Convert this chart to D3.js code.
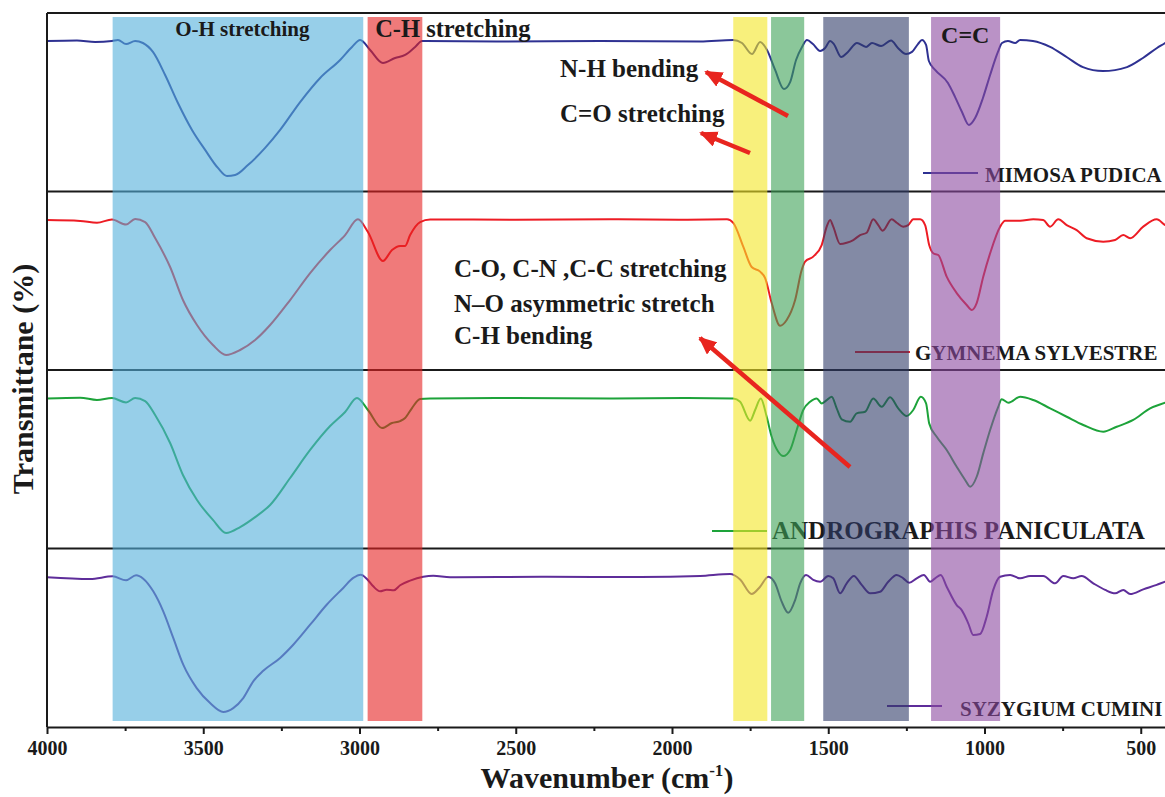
<!DOCTYPE html>
<html>
<head>
<meta charset="utf-8">
<script src="https://cdn.jsdelivr.net/npm/d3@7"></script>
<style>
  body { margin: 0; background: #fff; }
  svg text { font-family: "Liberation Serif", "Times New Roman", serif; font-weight: bold; fill: #1a1a1a; }
</style>
</head>
<body>
<svg id="ftir" width="1165" height="797"></svg>
<script>
/* FTIR spectra of four plant extracts, stacked panels */

// ---- data: [wavenumber, transmittance %] ----
const mimosa = [[4000,84.3],[3904,84.6],[3846,83.8],[3792,84.3],[3773,84.9],[3747,82.6],[3718,84.3],[3693,83.2],[3661,78.2],[3622,65.3],[3581,49.6],[3536,34.5],[3494,23.3],[3453,13.2],[3424,8.7],[3398,9.2],[3357,14.8],[3302,24.4],[3254,34.5],[3190,50.1],[3126,63.6],[3062,73.7],[3024,81.0],[2998,84.9],[2966,79.3],[2925,72.0],[2886,74.8],[2854,76.5],[2822,81.0],[2800,84.3],[2550,84.0],[2230,84.3],[1910,84.0],[1805,84.9],[1776,83.2],[1744,77.0],[1718,83.8],[1696,79.3],[1670,68.1],[1642,57.4],[1622,61.3],[1603,73.7],[1584,81.0],[1568,84.9],[1549,82.6],[1526,78.7],[1510,80.4],[1494,84.3],[1482,82.6],[1459,75.4],[1437,78.2],[1408,83.2],[1379,81.0],[1360,83.2],[1331,81.5],[1299,84.6],[1277,80.4],[1251,77.0],[1232,78.2],[1213,82.6],[1200,84.9],[1187,82.1],[1178,73.1],[1158,68.1],[1117,60.8],[1094,52.9],[1072,44.5],[1050,37.3],[1030,41.2],[1005,52.4],[982,65.3],[957,78.2],[944,83.2],[925,84.3],[902,83.2],[886,84.9],[845,84.3],[790,81.0],[736,75.2],[685,69.7],[621,67.5],[544,69.7],[493,74.8],[448,80.4],[422,83.2],[400,86.0]];

const gymnema = [[4000,84.0],[3894,83.5],[3840,82.5],[3792,84.3],[3747,81.5],[3718,84.6],[3686,82.9],[3654,73.9],[3606,57.7],[3565,39.2],[3520,25.2],[3469,14.0],[3427,8.4],[3382,11.2],[3334,16.8],[3286,25.2],[3222,39.2],[3158,54.3],[3094,67.2],[3046,75.6],[3005,84.4],[2973,77.3],[2925,61.1],[2896,67.2],[2870,69.5],[2854,69.5],[2838,75.6],[2806,82.9],[2774,84.3],[2500,84.2],[2200,84.4],[1950,84.2],[1824,84.4],[1804,82.4],[1772,69.1],[1745,57.7],[1718,55.1],[1702,51.5],[1681,37.5],[1654,24.8],[1633,28.0],[1606,39.2],[1585,56.0],[1574,60.7],[1548,63.5],[1521,70.0],[1505,80.3],[1494,84.0],[1484,80.3],[1462,70.6],[1441,71.3],[1420,72.8],[1398,75.6],[1377,76.9],[1356,84.4],[1340,81.2],[1326,78.0],[1297,84.4],[1281,82.5],[1260,80.3],[1244,81.2],[1228,84.4],[1206,84.4],[1190,81.2],[1177,70.0],[1164,65.4],[1148,64.4],[1121,52.3],[1089,43.1],[1057,36.4],[1041,33.6],[1025,37.5],[1004,52.3],[982,65.4],[950,80.3],[934,83.6],[886,83.6],[844,84.4],[812,84.0],[790,80.3],[764,84.4],[737,81.2],[705,78.4],[673,73.8],[620,71.9],[582,72.8],[556,75.6],[534,73.8],[492,80.3],[449,84.4],[422,81.2],[400,79.6]];

const andrographis = [[4000,84.1],[3894,84.5],[3840,83.2],[3792,84.3],[3747,81.8],[3718,84.3],[3686,82.6],[3654,74.8],[3606,59.1],[3565,41.2],[3520,27.2],[3469,16.0],[3427,8.7],[3382,12.0],[3334,17.6],[3286,24.4],[3222,39.5],[3158,55.2],[3094,68.6],[3046,76.5],[3008,84.3],[2973,77.6],[2928,67.5],[2896,70.3],[2870,71.4],[2854,73.1],[2832,78.7],[2806,83.8],[2774,84.0],[2500,84.3],[2200,84.0],[1950,84.3],[1804,84.1],[1782,82.2],[1750,71.6],[1734,77.6],[1716,84.1],[1697,73.8],[1681,62.6],[1660,54.2],[1644,51.8],[1622,55.2],[1601,66.4],[1580,77.6],[1558,82.2],[1537,84.1],[1521,81.3],[1507,82.8],[1489,85.0],[1473,78.5],[1457,72.4],[1430,71.0],[1409,75.7],[1382,76.6],[1356,84.1],[1329,79.4],[1302,84.7],[1276,78.5],[1249,74.2],[1228,77.6],[1204,85.0],[1187,81.3],[1177,70.1],[1153,62.6],[1121,55.2],[1089,45.8],[1062,38.4],[1046,34.6],[1025,40.2],[1004,53.3],[982,66.4],[956,79.4],[945,83.6],[923,81.7],[886,85.0],[844,83.2],[790,78.5],[737,73.8],[684,69.2],[620,65.4],[577,68.2],[524,72.0],[470,78.5],[422,81.7],[400,83.2]];

const syzygium = [[4000,83.9],[3862,82.9],[3790,84.4],[3747,82.2],[3715,85.0],[3692,83.1],[3660,76.0],[3628,64.8],[3596,49.9],[3564,34.9],[3521,21.8],[3478,13.4],[3436,8.4],[3404,10.6],[3372,16.2],[3340,25.6],[3308,31.5],[3254,38.7],[3212,46.1],[3158,57.3],[3105,68.5],[3052,77.9],[3020,83.5],[2996,85.3],[2977,83.1],[2956,78.8],[2934,76.0],[2913,76.9],[2890,76.6],[2870,79.4],[2838,82.0],[2796,84.2],[2764,84.8],[2710,83.9],[2400,84.2],[2100,84.0],[1910,84.6],[1814,85.7],[1782,82.7],[1745,74.5],[1718,78.6],[1692,84.2],[1670,80.5],[1649,70.2],[1628,64.0],[1606,71.1],[1590,80.5],[1571,85.2],[1548,82.4],[1526,81.4],[1500,84.6],[1484,83.3],[1462,74.9],[1441,80.5],[1418,84.6],[1393,79.6],[1366,74.9],[1334,75.8],[1308,81.4],[1281,85.2],[1260,83.3],[1241,80.8],[1217,83.3],[1194,85.2],[1174,81.4],[1158,83.3],[1140,85.2],[1121,78.6],[1089,68.3],[1073,65.5],[1052,58.1],[1036,51.5],[1014,52.1],[993,61.8],[972,76.8],[950,84.2],[918,85.2],[886,83.3],[854,84.6],[812,84.6],[774,80.5],[748,84.6],[716,83.3],[689,84.6],[652,80.5],[614,76.8],[582,74.9],[556,76.8],[534,74.5],[492,77.1],[449,79.6],[422,81.4],[400,82.5]];

const seriesNames  = ["MIMOSA PUDICA", "GYMNEMA SYLVESTRE", "ANDROGRAPHIS PANICULATA", "SYZYGIUM CUMINI"];
const seriesColors = ["#2E3192", "#ED1C24", "#1DA33A", "#5E2D9A"];
const seriesData   = [mimosa, gymnema, andrographis, syzygium];

// highlighted regions [from, to] wavenumber
const bandRanges = [[3790,2988],[2974,2799],[1804,1695],[1683,1577],[1516,1242],[1171,950]];
const bandColors = ["#52AFDA","#E62121","#F3E625","#3EA257","#303C69","#8C49A0"];

const majorTicks = [4000,3500,3000,2500,2000,1500,1000,500];
const minorTicks = [3750,3250,2750,2250,1750,1250,750];

// ---- layout ----
const svg = d3.select("#ftir");
const plotLeft = 47, plotTop = 13, plotBottom = 727, rightEdge = 1165;
const panelH = (plotBottom - plotTop) / 4;

const x = d3.scaleLinear().domain([4000, 400]).range([plotLeft, plotLeft + 3600 * 0.3125]);
const panelY = i => d3.scaleLinear().domain([0, 100])
  .range([plotTop + (i + 1) * panelH, plotTop + i * panelH]);

// ---- curves ----
const curveG = svg.append("g");
seriesData.forEach((s, i) => {
  const y = panelY(i);
  const line = d3.line()
    .x(d => x(d[0]))
    .y(d => y(d[1]))
    .curve(d3.curveMonotoneX);
  curveG.append("path")
    .datum(s)
    .attr("d", line)
    .attr("fill", "none")
    .attr("stroke", seriesColors[i])
    .attr("stroke-width", 2);
});

// ---- legends (sit under the bands) ----
const legendPos = [
  { lx: 923, ly: 173, tx: 985, ty: 181.5, size: 21 },
  { lx: 855, ly: 352, tx: 915, ty: 360, size: 21 },
  { lx: 712, ly: 531, tx: 772, ty: 538.5, size: 25 },
  { lx: 887, ly: 706, tx: 960, ty: 716, size: 21 }
];
const legG = svg.append("g");
legendPos.forEach((p, i) => {
  legG.append("line")
    .attr("x1", p.lx).attr("x2", p.lx + 55)
    .attr("y1", p.ly).attr("y2", p.ly)
    .attr("stroke", seriesColors[i]).attr("stroke-width", 2);
  legG.append("text")
    .attr("x", p.tx).attr("y", p.ty)
    .attr("font-size", p.size)
    .text(seriesNames[i]);
});

// ---- frame + dividers ----
const frameG = svg.append("g").attr("stroke", "#1a1a1a").attr("stroke-width", 2);
frameG.append("line").attr("x1", plotLeft).attr("x2", rightEdge).attr("y1", plotTop).attr("y2", plotTop);
frameG.append("line").attr("x1", plotLeft).attr("x2", plotLeft).attr("y1", plotTop).attr("y2", plotBottom);
[1, 2, 3].forEach(i => {
  frameG.append("line")
    .attr("x1", plotLeft).attr("x2", rightEdge)
    .attr("y1", plotTop + i * panelH).attr("y2", plotTop + i * panelH);
});

// ---- x axis ----
const axisG = svg.append("g").attr("transform", `translate(0,${plotBottom})`);
axisG.call(d3.axisBottom(x).tickValues(majorTicks).tickSize(7).tickSizeOuter(0).tickFormat(d3.format("d")));
axisG.select(".domain").attr("stroke", "#1a1a1a").attr("stroke-width", 2);
axisG.selectAll(".tick line").attr("stroke", "#1a1a1a").attr("stroke-width", 2);
axisG.selectAll(".tick text")
  .attr("y", 14)
  .attr("font-size", 20)
  .style("font-family", "'Liberation Serif', serif")
  .style("font-weight", "bold")
  .attr("fill", "#1a1a1a");
const minorG = svg.append("g").attr("transform", `translate(0,${plotBottom})`);
minorG.call(d3.axisBottom(x).tickValues(minorTicks).tickSize(4).tickSizeOuter(0).tickFormat(""));
minorG.select(".domain").remove();
minorG.selectAll(".tick line").attr("stroke", "#1a1a1a").attr("stroke-width", 2);

// ---- bands (semi-transparent, above curves) ----
const bandG = svg.append("g");
bandRanges.forEach((b, i) => {
  bandG.append("rect")
    .attr("x", x(b[0]))
    .attr("width", x(b[1]) - x(b[0]))
    .attr("y", 17)
    .attr("height", 704)
    .attr("fill", bandColors[i])
    .attr("fill-opacity", 0.6);
});

// ---- band labels + annotations ----
const annG = svg.append("g");
function label(tx, ty, size, str) {
  annG.append("text").attr("x", tx).attr("y", ty).attr("font-size", size).text(str);
}
label(x(3590), 36, 21, "O-H stretching");
label(x(2950), 37, 24.5, "C-H stretching");
label(x(1139), 43, 24, "C=C");
label(560, 77, 25, "N-H bending");
label(560, 121.5, 25, "C=O stretching");
label(454, 277, 25, "C-O, C-N ,C-C stretching");
label(454, 311.5, 25, "N\u2013O asymmetric stretch");
label(454, 343.5, 25, "C-H bending");

// red arrows
const defs = svg.append("defs");
defs.append("marker")
  .attr("id", "redHead")
  .attr("markerUnits", "userSpaceOnUse")
  .attr("markerWidth", 18).attr("markerHeight", 16)
  .attr("refX", 16).attr("refY", 8)
  .attr("orient", "auto")
  .append("path")
    .attr("d", "M0,0L18,8L0,16Z")
    .attr("fill", "#E8251F");

const arrows = [
  { x1: 788, y1: 116, x2: 706, y2: 72 },
  { x1: 750, y1: 153, x2: 701, y2: 133 },
  { x1: 850, y1: 467, x2: 700, y2: 338 }
];
arrows.forEach(a => {
  annG.append("line")
    .attr("x1", a.x1).attr("y1", a.y1)
    .attr("x2", a.x2).attr("y2", a.y2)
    .attr("stroke", "#E8251F")
    .attr("stroke-width", 4.5)
    .attr("marker-end", "url(#redHead)");
});

// ---- axis titles ----
const xt = svg.append("text")
  .attr("x", 607).attr("y", 788)
  .attr("text-anchor", "middle")
  .attr("font-size", 30);
xt.append("tspan").text("Wavenumber (cm");
xt.append("tspan").attr("font-size", 17).attr("dy", -12).text("-1");
xt.append("tspan").attr("dy", 12).text(")");

svg.append("text")
  .attr("transform", "translate(33,379) rotate(-90)")
  .attr("text-anchor", "middle")
  .attr("font-size", 30)
  .text("Transmittane (%)");
</script>
</body>
</html>
